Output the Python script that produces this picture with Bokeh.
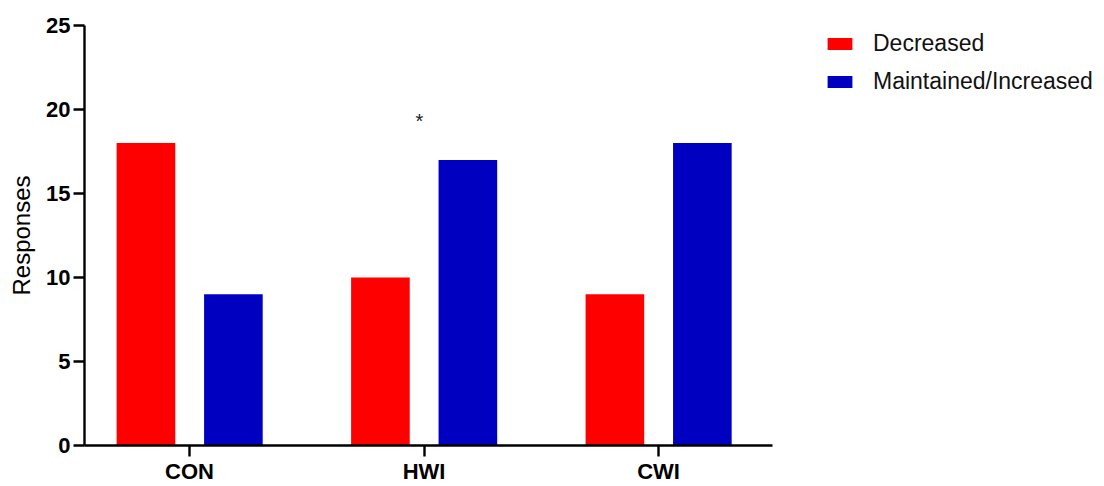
from bokeh.plotting import figure
from bokeh.models import ColumnDataSource, Range1d, FixedTicker, Legend, LegendItem
from bokeh.core.properties import value
from bokeh.transform import dodge
from bokeh.embed import file_html
from bokeh.resources import INLINE

categories = ["CON", "HWI", "CWI"]
decreased = [18, 10, 9]
maintained = [9, 17, 18]
star_text = ["*"]
star_cat = [1]
star_y = [19.3]

xpos = [1, 2, 3]
FONT = "Liberation Sans"
X0, X_AXIS_END, X1 = 0.552, 3.486, 4.902

p = figure(width=1104, height=486, output_backend="svg", toolbar_location=None,
           x_range=Range1d(X0, X1), y_range=Range1d(0, 25),
           min_border_left=84, min_border_top=25, min_border_bottom=38, min_border_right=0)
p.outline_line_color = None
p.grid.visible = False
p.background_fill_color = "white"

src = ColumnDataSource(dict(x=xpos, dec=decreased, mai=maintained))
r1 = p.vbar(x=dodge("x", -0.186, range=p.x_range), top="dec", width=0.25, source=src,
            fill_color="#ff0000", line_color=None)
r2 = p.vbar(x=dodge("x", 0.187, range=p.x_range), top="mai", width=0.25, source=src,
            fill_color="#0000c0", line_color=None)

star_src = ColumnDataSource(dict(x=[xpos[i] - 0.02 for i in star_cat], y=star_y, t=star_text))
p.text(x="x", y="y", text="t", source=star_src, text_align="center", text_baseline="middle",
       text_font=value(FONT), text_font_size="20px", text_color="#222222")

# axes
p.xaxis.ticker = FixedTicker(ticks=xpos)
p.xaxis.major_label_overrides = {x: c for x, c in zip(xpos, categories)}
p.xaxis.bounds = (X0, X_AXIS_END)
p.yaxis.ticker = FixedTicker(ticks=[0, 5, 10, 15, 20, 25])
for ax in (p.xaxis, p.yaxis):
    ax.axis_line_width = 2.4
    ax.axis_line_color = "black"
    ax.major_tick_line_width = 2.4
    ax.major_tick_line_color = "black"
    ax.major_tick_out = 11
    ax.major_tick_in = 0
    ax.minor_tick_line_color = None
    ax.major_label_text_font = FONT
    ax.major_label_text_font_style = "bold"
    ax.major_label_text_font_size = "22px"
    ax.major_label_text_color = "black"
p.xaxis.major_label_standoff = 2
p.yaxis.major_label_standoff = 3
p.yaxis.axis_label = "Responses"
p.yaxis.axis_label_text_font = FONT
p.yaxis.axis_label_text_font_style = "normal"
p.yaxis.axis_label_text_font_size = "24px"
p.yaxis.axis_label_text_color = "black"
p.yaxis.axis_label_standoff = 8

legend = Legend(items=[LegendItem(label="Decreased", renderers=[r1]),
                       LegendItem(label="Maintained/Increased", renderers=[r2])],
                location=(740, 350))
legend.glyph_width = 31
legend.glyph_height = 15
legend.label_text_font = FONT
legend.label_text_font_size = "23px"
legend.label_text_color = "#111111"
legend.spacing = 11
legend.label_standoff = 18
legend.border_line_color = None
legend.background_fill_alpha = 0
legend.margin = 0
legend.padding = 0
p.add_layout(legend, "center")

open("out.html", "w").write(file_html(p, INLINE))
